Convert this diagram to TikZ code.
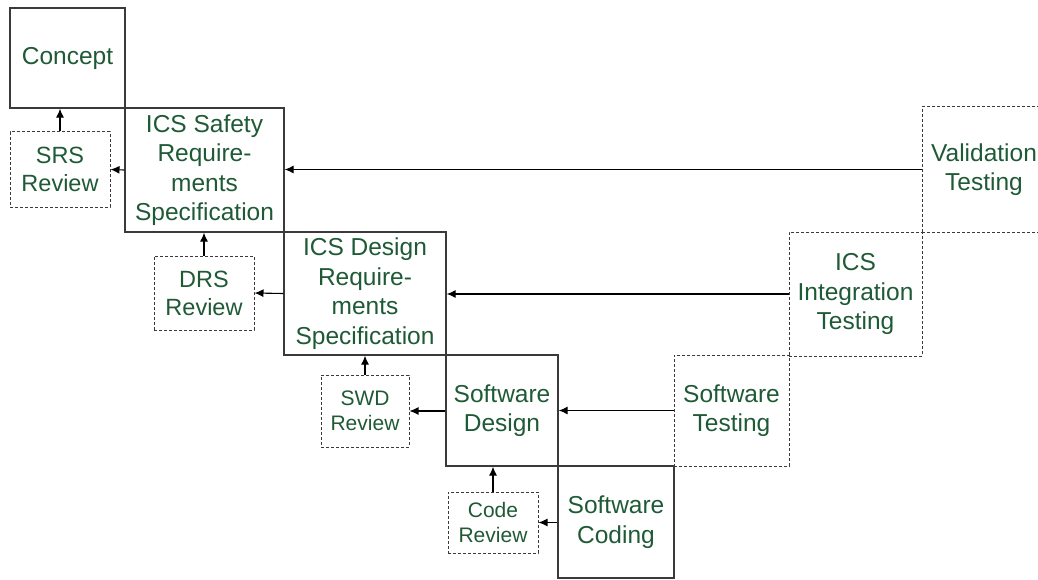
\documentclass[tikz,border=0pt]{standalone}
\usepackage{fontspec}
\setmainfont{Liberation Sans}
\usepackage{xcolor}
\usepackage{tikz}
\usetikzlibrary{arrows.meta}

\definecolor{testo}{HTML}{1F5A36}
\definecolor{bordo}{HTML}{3A3A3A}

\tikzset{
	fase/.style={draw=bordo, line width=1.3pt, rectangle, align=center, text=testo, inner sep=2pt, font=\fontsize{24.5}{29.5}\selectfont},
	prova/.style={fase, draw=bordo, line width=1pt, dash pattern=on 3pt off 2pt},
	revisione/.style={prova, font=\fontsize{23.5}{28}\selectfont},
	piccola/.style={prova, font=\fontsize{21}{25}\selectfont},
	freccia/.style={-{Latex[length=9pt,width=8pt]}, line width=1.1pt, black}
}

\begin{document}
\begin{tikzpicture}[x=1pt, y=-1pt]
		\useasboundingbox (0,0) rectangle (1038,580); % Margini della figura
		
		% Fasi del ramo sinistro
		\node[fase, minimum width=115pt, minimum height=100pt] (concept) at (67.5,58) {Concept}; % Concetto
		\node[fase, minimum width=159pt, minimum height=124pt] (safety) at (204.5,170) {ICS Safety\\Require-\\ments\\Specification}; % Requisiti di sicurezza
		\node[fase, minimum width=162pt, minimum height=123pt] (design) at (365,293.5) {ICS Design\\Require-\\ments\\Specification}; % Requisiti di progetto
		\node[fase, minimum width=112pt, minimum height=111pt] (swdesign) at (502,410.5) {Software\\Design}; % Progetto software
		\node[fase, minimum width=116pt, minimum height=112pt] (coding) at (616,522) {Software\\Coding}; % Codifica
		
		% Revisioni
		\node[revisione, minimum width=100pt, minimum height=75pt] (srs) at (60,169.5) {SRS\\Review};
		\node[revisione, minimum width=100pt, minimum height=74pt] (drs) at (204,293) {DRS\\Review};
		\node[piccola, minimum width=88pt, minimum height=72pt] (swd) at (365,411) {SWD\\Review};
		\node[piccola, minimum width=90pt, minimum height=61pt] (code) at (493,522.5) {Code\\Review};
		
		% Fasi del ramo destro
		\node[prova, minimum width=115pt, minimum height=111pt] (swtest) at (731.5,410.5) {Software\\Testing};
		\node[prova, minimum width=133pt, minimum height=124pt] (integration) at (855.5,294) {ICS\\Integration\\Testing};
		\node[prova, minimum width=124pt, minimum height=125pt] (validation) at (984,169.5) {Validation\\Testing};
		
		% Frecce verso le revisioni
		\draw[freccia] (safety.west) -- (srs.east);
		\draw[freccia] (design.west) -- (drs.east);
		\draw[freccia] (swdesign.west |- swd.east) -- (swd.east);
		\draw[freccia] (coding.west |- code.east) -- (code.east);
		
		% Frecce verso le fasi precedenti
		\draw[freccia] (srs.north) -- (srs.north |- concept.south);
		\draw[freccia] (drs.north) -- (drs.north |- safety.south);
		\draw[freccia] (swd.north) -- (swd.north |- design.south);
		\draw[freccia] (code.north) -- (code.north |- swdesign.south);
		
		% Frecce dai test
		\draw[freccia] (validation.west) -- (validation.west -| safety.east);
		\draw[freccia] (integration.west) -- (integration.west -| design.east);
		\draw[freccia] (swtest.west) -- (swtest.west -| swdesign.east);
	\end{tikzpicture}
\end{document}
